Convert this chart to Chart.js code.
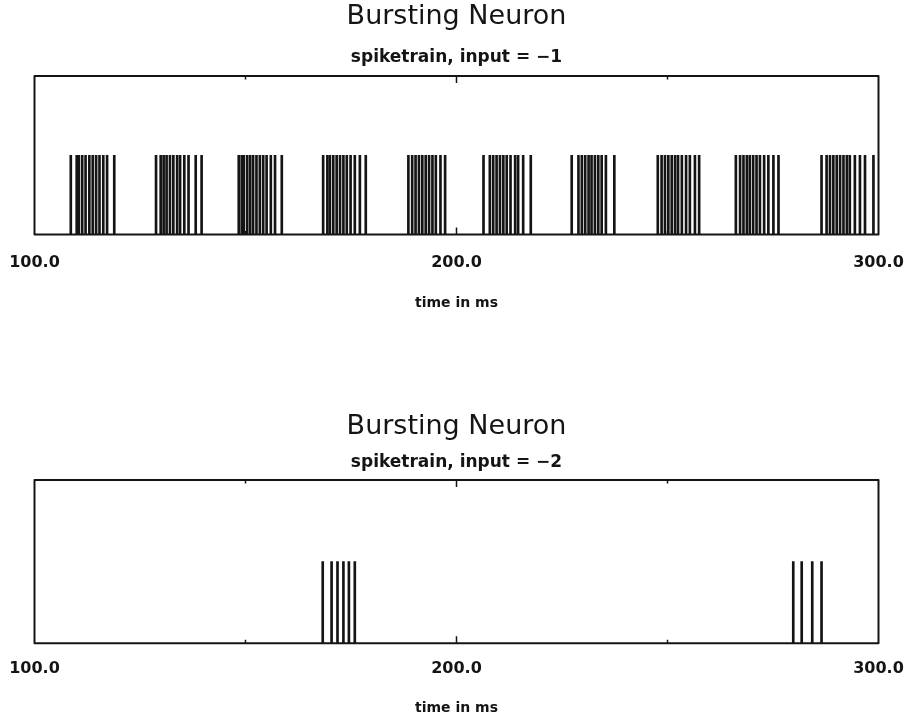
<!DOCTYPE html>
<html>
<head>
<meta charset="utf-8">
<script src="https://cdn.jsdelivr.net/npm/chart.js@4.4.1/dist/chart.umd.min.js"></script>
<style>
  html, body { margin: 0; padding: 0; background: #fff; overflow: hidden; }
  .panel { position: absolute; left: 0; width: 908px; }
</style>
</head>
<body>
<div class="panel" style="top:0;height:320px"><canvas id="trainA"></canvas></div>
<div class="panel" style="top:404px;height:319px"><canvas id="trainB"></canvas></div>
<script>
// Spike times (ms) recorded for the two input levels
const spikeTimesInputMinus1 = [
  108.6, 110.0, 110.5, 111.3, 112.1, 113.0, 113.8, 114.6, 115.4, 116.3, 117.2, 118.9,
  128.8, 129.9, 130.6, 131.3, 132.1, 132.9, 133.8, 134.5, 135.5, 136.5, 138.2, 139.6,
  148.4, 149.1, 149.6, 150.4, 151.1, 151.8, 152.6, 153.4, 154.2, 155.0, 156.0, 157.0, 158.6,
  168.4, 169.4, 170.0, 170.8, 171.6, 172.4, 173.2, 174.0, 174.9, 175.9, 177.1, 178.5,
  188.6, 189.5, 190.3, 191.1, 191.9, 192.7, 193.5, 194.3, 195.1, 196.2, 197.3,
  206.4, 207.9, 208.7, 209.5, 210.3, 211.1, 211.9, 212.8, 213.9, 214.6, 215.8, 217.6,
  227.3, 228.9, 229.7, 230.5, 231.3, 232.0, 232.8, 233.6, 234.4, 235.4, 237.4,
  247.7, 248.6, 249.4, 250.2, 251.0, 251.8, 252.5, 253.4, 254.4, 255.3, 256.5, 257.5,
  266.2, 267.2, 268.0, 268.8, 269.5, 270.3, 271.1, 271.9, 272.9, 273.9, 275.1, 276.3,
  286.5, 287.7, 288.5, 289.3, 290.1, 290.9, 291.7, 292.5, 293.2, 294.4, 295.6, 296.8, 298.8
];
const spikeTimesInputMinus2 = [
  168.3, 170.4, 171.8, 173.2, 174.5, 175.9,
  279.8, 281.8, 284.3, 286.5
];
const spikeHeight = 1;
const timeRange = [100, 300];
const labelledTicks = [100, 200, 300];
const innerTicks = [150, 200, 250];
const majorInnerTick = 200;
const chartTitle = 'Bursting Neuron';
const subtitles = ['spiketrain, input = \u22121', 'spiketrain, input = \u22122'];
const axisTitle = 'time in ms';

const INK = '#141414';
const FONT = '"DejaVu Sans", "Liberation Sans", sans-serif';

// Closed frame around the plot area with short inward ticks on top and bottom edges
const framePlugin = {
  id: 'frame',
  afterDatasetsDraw(chart) {
    const { ctx, chartArea: a, scales } = chart;
    ctx.save();
    ctx.strokeStyle = INK;
    ctx.lineWidth = 2;
    ctx.lineJoin = 'round';
    ctx.strokeRect(a.left, a.top, a.right - a.left, a.bottom - a.top);
    ctx.lineWidth = 1.5;
    innerTicks.forEach(v => {
      const px = scales.x.getPixelForValue(v);
      const len = v === majorInnerTick ? 7 : 3.5;
      ctx.beginPath();
      ctx.moveTo(px, a.top); ctx.lineTo(px, a.top + len);
      ctx.moveTo(px, a.bottom); ctx.lineTo(px, a.bottom - len);
      ctx.stroke();
    });
    ctx.restore();
  }
};

function makeTrain(canvasId, times, subtitle, lay) {
  return new Chart(document.getElementById(canvasId), {
    type: 'bar',
    data: {
      datasets: [{
        data: times.map(t => ({ x: t, y: spikeHeight })),
        backgroundColor: INK,
        borderWidth: 0,
        barThickness: 2
      }]
    },
    options: {
      responsive: true,
      maintainAspectRatio: false,
      animation: false,
      events: [],
      layout: { padding: { left: 34.5, right: 29.5, top: 0, bottom: lay.padBottom } },
      plugins: {
        legend: { display: false },
        tooltip: { enabled: false },
        title: {
          display: true,
          text: chartTitle,
          color: INK,
          font: { family: FONT, size: 27, weight: 'normal', lineHeight: 1.2 },
          padding: { top: lay.titleTop, bottom: 0 }
        },
        subtitle: {
          display: true,
          text: subtitle,
          color: INK,
          font: { family: FONT, size: 17, weight: 'bold', lineHeight: 1 },
          padding: { top: lay.subTop, bottom: lay.subBottom }
        }
      },
      scales: {
        x: {
          type: 'linear',
          min: timeRange[0],
          max: timeRange[1],
          offset: false,
          grid: { display: false, drawTicks: false },
          border: { display: false },
          afterBuildTicks: s => { s.ticks = labelledTicks.map(v => ({ value: v })); },
          ticks: {
            autoSkip: false,
            maxRotation: 0,
            padding: 0,
            color: INK,
            font: { family: FONT, size: 16, weight: 'bold', lineHeight: lay.labelLine },
            callback: v => Number(v).toFixed(1)
          },
          title: {
            display: true,
            text: axisTitle,
            color: INK,
            font: { family: FONT, size: 14, weight: 'bold', lineHeight: 1.2 },
            padding: { top: lay.axisTitleTop, bottom: 2 }
          }
        },
        y: { display: false, min: 0, max: 2 }
      }
    },
    plugins: [framePlugin]
  });
}

makeTrain('trainA', spikeTimesInputMinus1, subtitles[0],
  { titleTop: 1, subTop: 16, subBottom: 9.5, labelLine: 3.5, axisTitleTop: 4.6, padBottom: 6 });
makeTrain('trainB', spikeTimesInputMinus2, subtitles[1],
  { titleTop: 7, subTop: 11, subBottom: 8.5, labelLine: 3.25, axisTitleTop: 5, padBottom: 4 });
</script>
</body>
</html>
